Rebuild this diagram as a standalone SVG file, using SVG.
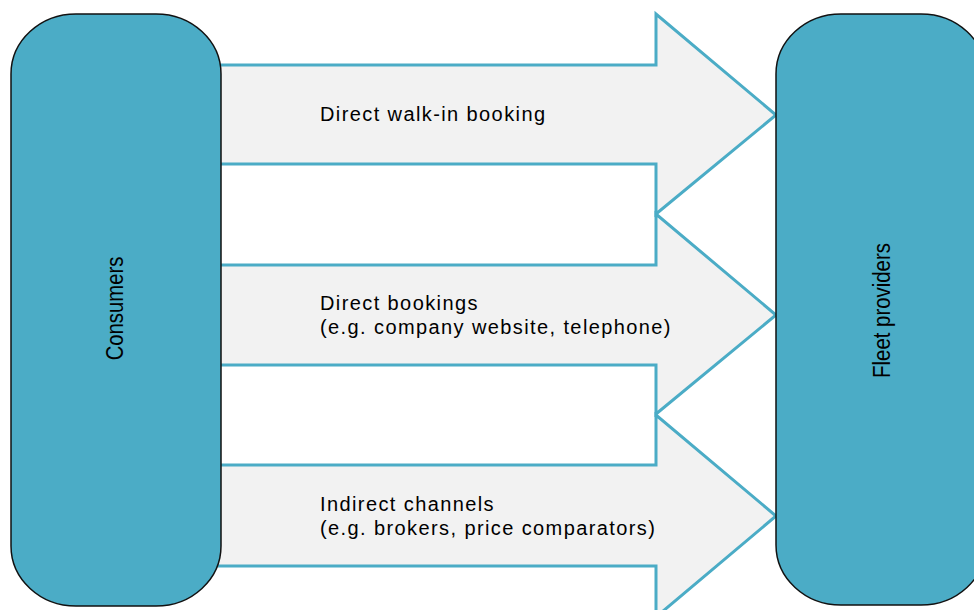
<svg xmlns="http://www.w3.org/2000/svg" width="974" height="610" viewBox="0 0 974 610">
  <style>
    .arrow { fill: #f2f2f2; stroke: #4bacc6; stroke-width: 3; stroke-linejoin: miter; }
    .box { fill: #4bacc6; stroke: #111; stroke-width: 1.5; }
    .lbl { font-family: "Liberation Sans", Arial, sans-serif; font-size: 20px; letter-spacing: 1.4px; fill: #000; }
    .vlbl { font-family: "Liberation Sans", Arial, sans-serif; font-size: 24px; fill: #000; text-anchor: middle; }
  </style>
  <rect width="974" height="610" fill="#ffffff"/>
  <g id="connectors">
    <g id="arrow-walkin">
      <path class="arrow" d="M200 65 L656 65 L656 14 L776 115 L656 214 L656 164 L200 164 Z"/>
      <text class="lbl" x="320" y="121">Direct walk-in booking</text>
    </g>
    <g id="arrow-direct">
      <path class="arrow" d="M200 265 L656 265 L656 214 L776 315 L656 414 L656 365 L200 365 Z"/>
      <text class="lbl" x="320" y="310">Direct bookings</text>
      <text class="lbl" x="320" y="334">(e.g. company website, telephone)</text>
    </g>
    <g id="arrow-indirect">
      <path class="arrow" d="M200 465 L656 465 L656 415 L776 516 L656 617 L656 566 L200 566 Z"/>
      <text class="lbl" x="320" y="511">Indirect channels</text>
      <text class="lbl" x="320" y="535">(e.g. brokers, price comparators)</text>
    </g>
  </g>
  <g id="consumers">
    <rect class="box" x="11" y="14" width="210" height="592" rx="65" ry="60"/>
    <text class="vlbl" transform="translate(123,308.5) rotate(-90) scale(0.845,1)">Consumers</text>
  </g>
  <g id="fleet-providers">
    <rect class="box" x="776" y="14" width="210" height="591" rx="65" ry="60"/>
    <text class="vlbl" transform="translate(890,310.5) rotate(-90) scale(0.85,1)">Fleet providers</text>
  </g>
</svg>
